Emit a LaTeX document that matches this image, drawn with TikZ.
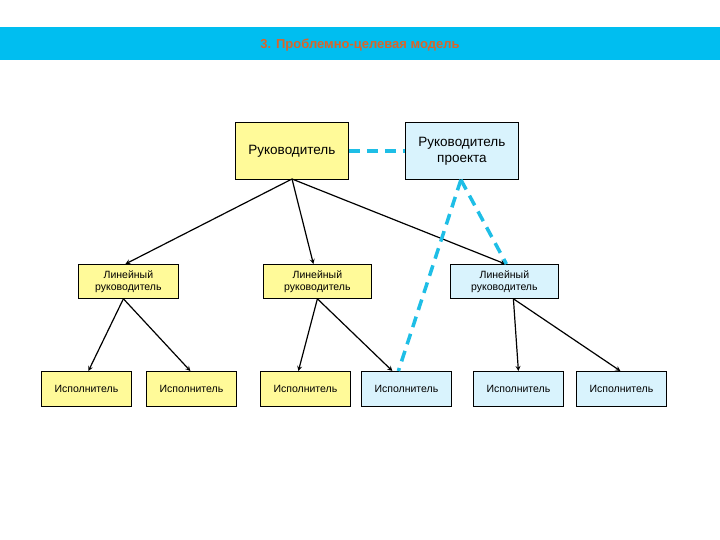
\documentclass[tikz,border=0pt]{standalone}
\usepackage{fontspec}
\setmainfont{Liberation Sans}
\begin{document}
\begin{tikzpicture}[x=1pt,y=-1pt,
 box/.style={draw=black,line width=0.8pt,inner sep=0pt,align=center,anchor=north west,font=\fontsize{10.5}{12}\selectfont},
 yel/.style={box,fill=yellow!40},
 cy/.style={box,fill=cyan!15},
 arr/.style={-stealth,line width=1.2pt},
 cdash/.style={draw={rgb,255:red,30;green,190;blue,230},line width=3.5pt,dash pattern=on 11pt off 7pt}]
\useasboundingbox (0,0) rectangle (720,540);
\fill[fill={rgb,255:red,0;green,190;blue,240}] (0,27) rectangle (720,60);
\node[font=\bfseries\fontsize{13}{15}\selectfont,text={rgb,255:red,220;green,100;blue,40}] (t) at (360,45) {3. Проблемно-целевая модель};
\node[yel,minimum width=113pt,minimum height=57pt,font=\fontsize{13.5}{16}\selectfont] (R) at (235,122) {Руководитель};
\node[cy,minimum width=113pt,minimum height=57pt,font=\fontsize{13.5}{16}\selectfont] (P) at (405,122) {Руководитель\\проекта};
\node[yel,minimum width=100pt,minimum height=34pt] (L1) at (78,264) {Линейный\\руководитель};
\node[yel,minimum width=108pt,minimum height=34pt] (L2) at (263,264) {Линейный\\руководитель};
\node[cy,minimum width=108pt,minimum height=34pt] (L3) at (450,264) {Линейный\\руководитель};
\node[yel,minimum width=90pt,minimum height=35pt] (E1) at (41,371) {Исполнитель};
\node[yel,minimum width=90pt,minimum height=35pt] (E2) at (146,371) {Исполнитель};
\node[yel,minimum width=90pt,minimum height=35pt] (E3) at (260,371) {Исполнитель};
\node[cy,minimum width=90pt,minimum height=35pt] (E4) at (361,371) {Исполнитель};
\node[cy,minimum width=90pt,minimum height=35pt] (E5) at (473,371) {Исполнитель};
\node[cy,minimum width=90pt,minimum height=35pt] (E6) at (576,371) {Исполнитель};
\coordinate (Rb) at (292,179);
\draw[arr] (Rb) -- ([xshift=-3pt]L1.north);
\draw[arr] (Rb) -- ([xshift=-4pt]L2.north);
\draw[arr] (Rb) -- ([xshift=1pt]L3.north);
\draw[arr] ([xshift=-5pt]L1.south) -- ([xshift=2pt]E1.north);
\draw[arr] ([xshift=-5pt]L1.south) -- ([xshift=-1pt]E2.north);
\draw[arr] (L2.south) -- ([xshift=-7pt]E3.north);
\draw[arr] (L2.south) -- ([xshift=-14pt]E4.north);
\draw[arr] ([xshift=9pt]L3.south) -- (E5.north);
\draw[arr] ([xshift=9pt]L3.south) -- ([xshift=-1pt]E6.north);
\draw[cdash] (R.east) -- (P.west);
\draw[cdash] ([xshift=-1pt]P.south) -- ([xshift=-8pt]E4.north);
\draw[cdash] ([xshift=-1pt]P.south) -- ([xshift=2pt]L3.north);
\end{tikzpicture}
\end{document}
